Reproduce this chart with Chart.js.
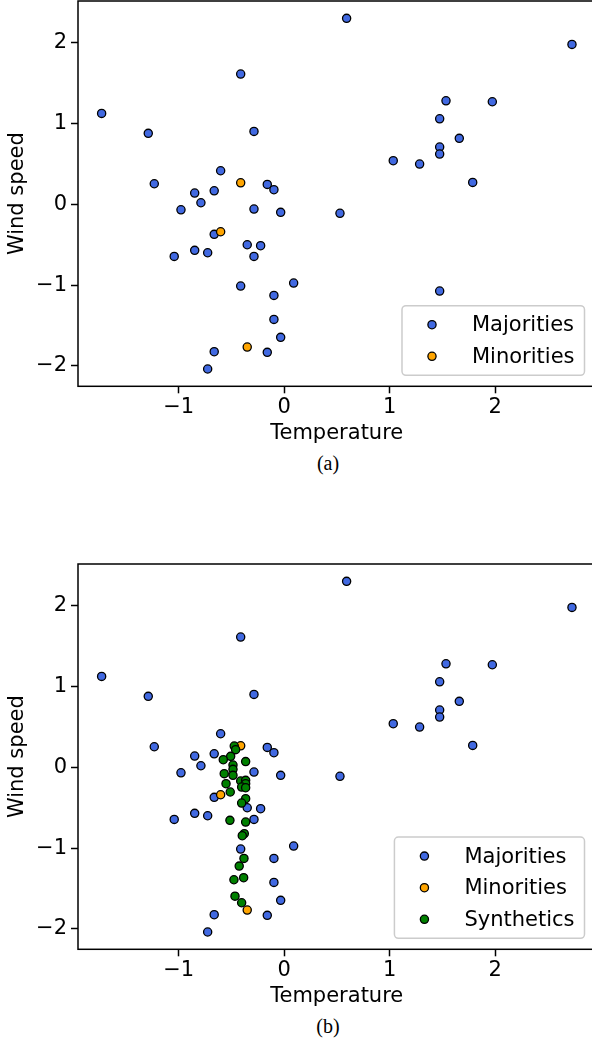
<!DOCTYPE html>
<html lang="en">
<head>
<meta charset="UTF-8">
<title>Temperature vs Wind speed</title>
<script src="https://cdn.jsdelivr.net/npm/chart.js"></script>
<style>
  html, body { margin: 0; padding: 0; background: #fff; overflow: hidden; }
  body { width: 592px; height: 1042px; position: relative; }
  .plot { position: absolute; left: 0; }
  .caption { position: absolute; transform: translateX(-50%); font-family: "Liberation Serif", "DejaVu Serif", serif; font-size: 20px; line-height: 22px; color: #000; }
</style>
</head>
<body>
<canvas id="chartA" class="plot" style="top:0" width="600" height="446"></canvas>
<div class="caption" style="left:328px; top:452px">(a)</div>
<canvas id="chartB" class="plot" style="top:562.5px" width="600" height="446"></canvas>
<div class="caption" style="left:328px; top:1015px">(b)</div>

<script>
// values
const tempMaj = [-1.731, -0.413, -1.289, -0.287, -1.232, -0.603, -0.849, -0.664, -0.161, -0.098,
                 -0.790, -0.979, -0.287, -0.034, -0.664, -0.849, -0.726, -1.043, -0.351, -0.224,
                 -0.287, -0.413, 0.089, -0.098, -0.098, -0.034, -0.664, -0.161, -0.726, 0.591,
                 2.727, 1.533, 1.972, 1.473, 1.659, 1.473, 1.473, 1.033, 1.283, 1.786,
                 0.528, 1.473];
const windMaj = [1.126, 1.613, 0.879, 0.903, 0.255, 0.416, 0.140, 0.168, 0.247, 0.181,
                 0.020, -0.067, -0.058, -0.099, -0.371, -0.569, -0.599, -0.644, -0.500, -0.512,
                 -0.644, -1.011, -0.974, -1.127, -1.424, -1.646, -1.824, -1.832, -2.038, 2.302,
                 1.980, 1.282, 1.270, 1.059, 0.817, 0.709, 0.623, 0.540, 0.499, 0.272,
                 -0.111, -1.073];

const tempMin = [-0.413, -0.603, -0.351];
const windMin = [0.267, -0.339, -1.766];

const tempSyn = [-0.474, -0.461, -0.508, -0.578, -0.366, -0.486, -0.486, -0.569, -0.486, -0.413,
                 -0.366, -0.366, -0.404, -0.366, -0.552, -0.512, -0.366, -0.404, -0.515, -0.366,
                 -0.379, -0.398, -0.382, -0.427, -0.477, -0.385, -0.467, -0.404];
const windSyn = [0.264, 0.219, 0.136, 0.095, 0.071, 0.029, -0.025, -0.078, -0.099, -0.169,
                 -0.161, -0.202, -0.244, -0.252, -0.202, -0.305, -0.388, -0.442, -0.656, -0.677,
                 -0.821, -0.846, -1.127, -1.222, -1.391, -1.366, -1.594, -1.676];

const xTicks = [-1, 0, 1, 2];
const yTicks = [-2, -1, 0, 1, 2];

const FONT = "'DejaVu Sans', sans-serif";

function pts(xs, ys) {
    return xs.map((x, i) => ({ x: x, y: ys[i] }));
}

function minusLabel(v) {
    return v < 0 ? '\u2212' + Math.abs(v) : String(v);
}

function dataset(label, xs, ys, color, order) {
    return {
        label: label,
        data: pts(xs, ys),
        backgroundColor: color,
        borderColor: '#000',
        borderWidth: 1.3,
        pointRadius: 4.1,
        pointHoverRadius: 4.1,
        order: order
    };
}

// full box around the plot area, like matplotlib spines
const frame = {
    id: 'frame',
    afterDraw(chart) {
        const a = chart.chartArea, ctx = chart.ctx;
        ctx.save();
        ctx.strokeStyle = '#000';
        ctx.lineWidth = 1.5;
        ctx.strokeRect(a.left, a.top, a.right - a.left, a.bottom - a.top);
        ctx.restore();
    }
};

// legend box in the lower right corner
const boxLegend = {
    id: 'boxLegend',
    afterDraw(chart) {
        const a = chart.chartArea, ctx = chart.ctx;
        const sets = chart.data.datasets;
        ctx.save();
        ctx.font = '21px ' + FONT;
        let tw = 0;
        sets.forEach(d => { tw = Math.max(tw, ctx.measureText(d.label).width); });
        const w = 70 + tw + 10;
        const h = 38 + 31.6 * (sets.length - 1);
        const x0 = a.right - 11 - w;
        const y0 = a.bottom - 11 - h;
        ctx.beginPath();
        ctx.roundRect(x0, y0, w, h, 4);
        ctx.fillStyle = '#fff';
        ctx.fill();
        ctx.strokeStyle = '#cccccc';
        ctx.lineWidth = 1.5;
        ctx.stroke();
        sets.forEach((d, i) => {
            const cy = y0 + 19 + 31.6 * i;
            ctx.beginPath();
            ctx.arc(x0 + 30, cy, 4.1, 0, Math.PI * 2);
            ctx.fillStyle = d.backgroundColor;
            ctx.fill();
            ctx.strokeStyle = '#000';
            ctx.lineWidth = 1.3;
            ctx.stroke();
            ctx.fillStyle = '#000';
            ctx.textBaseline = 'middle';
            ctx.textAlign = 'left';
            ctx.fillText(d.label, x0 + 70, cy + 1);
        });
        ctx.restore();
    }
};

function makeChart(id, datasets) {
    const ctx = document.getElementById(id).getContext('2d');
    return new Chart(ctx, {
        type: 'scatter',
        data: { datasets: datasets },
        options: {
            responsive: false,
            animation: false,
            layout: { autoPadding: false, padding: { top: 1, right: 4.5, left: 0, bottom: 0 } },
            plugins: {
                legend: { display: false },
                tooltip: { enabled: false }
            },
            scales: {
                x: {
                    type: 'linear',
                    min: -1.955,
                    max: 2.95,
                    afterFit: s => { s.height = 59.7; s.paddingLeft = 0; s.paddingRight = 0; },
                    afterBuildTicks: s => { s.ticks = xTicks.map(v => ({ value: v })); },
                    border: { display: false },
                    grid: { drawOnChartArea: false, drawTicks: true, tickLength: 7, tickWidth: 1.5, tickColor: '#000' },
                    ticks: { color: '#000', padding: 2, font: { family: FONT, size: 21 }, callback: minusLabel, maxRotation: 0 },
                    title: { display: true, text: 'Temperature', color: '#000', padding: 0, font: { family: FONT, size: 21 } }
                },
                y: {
                    type: 'linear',
                    min: -2.252,
                    max: 2.517,
                    afterFit: s => { s.width = 78; s.paddingTop = 0; s.paddingBottom = 0; },
                    afterBuildTicks: s => { s.ticks = yTicks.map(v => ({ value: v })); },
                    border: { display: false },
                    grid: { drawOnChartArea: false, drawTicks: true, tickLength: 7, tickWidth: 1.5, tickColor: '#000' },
                    ticks: { color: '#000', padding: 4, font: { family: FONT, size: 21 }, callback: minusLabel },
                    title: { display: true, text: 'Wind speed', color: '#000', padding: { top: 5.4, bottom: 0 }, font: { family: FONT, size: 21 } }
                }
            }
        },
        plugins: [frame, boxLegend]
    });
}

makeChart('chartA', [
    dataset('Majorities', tempMaj, windMaj, '#4169E1', 2),
    dataset('Minorities', tempMin, windMin, '#FFA500', 1)
]);

makeChart('chartB', [
    dataset('Majorities', tempMaj, windMaj, '#4169E1', 3),
    dataset('Minorities', tempMin, windMin, '#FFA500', 2),
    dataset('Synthetics', tempSyn, windSyn, '#008000', 1)
]);
</script>
</body>
</html>
